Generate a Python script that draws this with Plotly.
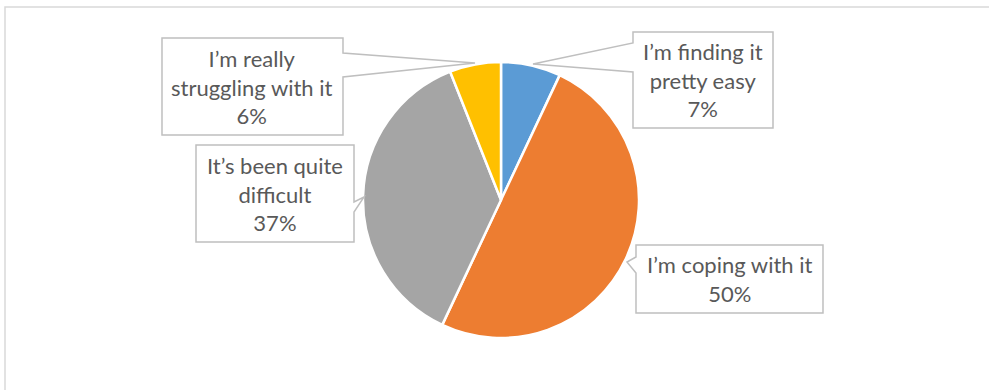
import plotly.graph_objects as go

W, H = 989, 390

labels = ["I’m finding it pretty easy", "I’m coping with it", "It’s been quite difficult", "I’m really struggling with it"]
values = [7, 50, 37, 6]
colors = ["#5B9BD5", "#ED7D31", "#A5A5A5", "#FFC000"]
# callout text line breaks
label_lines = [["I’m finding it", "pretty easy"], ["I’m coping with it"], ["It’s been quite", "difficult"], ["I’m really", "struggling with it"]]

# callout layout (pixels): box (x0, y0, x1, y1), side, wedge base (ya, yb), tip (x, y)
callouts = [
    dict(box=(633, 32, 773, 128), side="left", base=(43, 72), tip=(533, 64)),
    dict(box=(636, 245, 823, 313), side="left", base=(257, 273), tip=(627, 262)),
    dict(box=(196, 145, 354, 242), side="right", base=(202, 212), tip=(364, 197)),
    dict(box=(162, 38, 343, 135), side="right", base=(53, 77), tip=(475, 63)),
]

def px(x):
    return x / W

def py(y):
    return 1 - y / H

fig = go.Figure()

cx, cy, r = 501, 200, 138
fig.add_trace(go.Pie(
    labels=labels, values=values, sort=False, direction="clockwise", rotation=0,
    marker=dict(colors=colors, line=dict(color="white", width=2.5)),
    textinfo="none", hoverinfo="label+percent", showlegend=False,
    domain=dict(x=[px(cx - r), px(cx + r)], y=[py(cy + r), py(cy - r)]),
))

shapes = []
# chart frame (partially outside)
shapes.append(dict(type="rect", xref="paper", yref="paper", x0=px(5), y0=py(H + 20), x1=px(W + 20), y1=py(7),
                   line=dict(color="#D9D9D9", width=1.5), fillcolor="rgba(0,0,0,0)", layer="below"))

annotations = []
for c, lines, v in zip(callouts, label_lines, values):
    x0, y0, x1, y1 = c["box"]
    ya, yb = c["base"]
    tx, ty = c["tip"]
    if c["side"] == "left":
        pts = [(x0, y0), (x1, y0), (x1, y1), (x0, y1), (x0, yb), (tx, ty), (x0, ya)]
    else:
        pts = [(x0, y0), (x1, y0), (x1, ya), (tx, ty), (x1, yb), (x1, y1), (x0, y1)]
    path = "M " + " L ".join(f"{px(a):.5f},{py(b):.5f}" for a, b in pts) + " Z"
    shapes.append(dict(type="path", xref="paper", yref="paper", path=path,
                       line=dict(color="#BFBFBF", width=1.5), fillcolor="white", layer="above"))
    text = "<br>".join(lines + [f"{v}%"])
    annotations.append(dict(x=px((x0 + x1) / 2), y=py((y0 + y1) / 2), xref="paper", yref="paper",
                            xanchor="center", yanchor="middle",
                            text=text, showarrow=False, align="center",
                            font=dict(family="Lato, Open Sans, sans-serif", size=22, color="#595959")))

fig.update_layout(
    width=W, height=H, margin=dict(l=0, r=0, t=0, b=0),
    paper_bgcolor="white", plot_bgcolor="white",
    shapes=shapes, annotations=annotations,
)

fig.write_html("out.html")
